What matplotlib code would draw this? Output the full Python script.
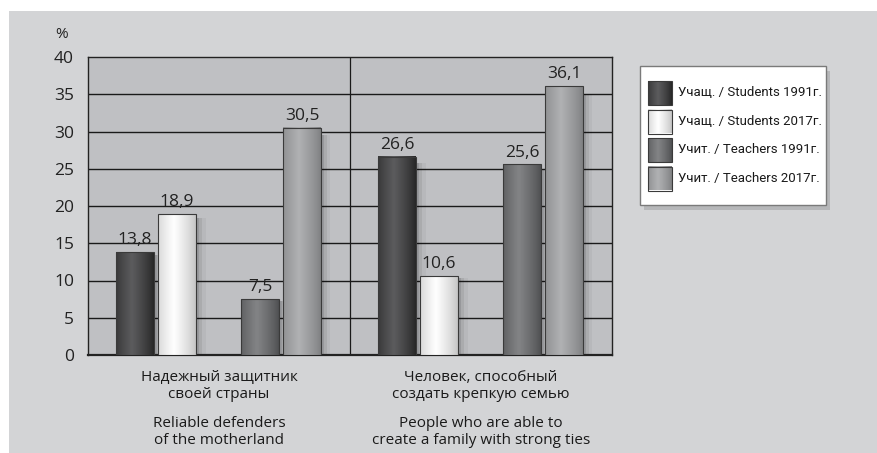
import numpy as np
import matplotlib
matplotlib.use("Agg")
import matplotlib.pyplot as plt
from matplotlib.patches import Rectangle

plt.rcParams['font.family'] = ['Open Sans', 'DejaVu Sans']

# ---- data ----
groups_ru = ["Надежный защитник\nсвоей страны", "Человек, способный\nсоздать крепкую семью"]
groups_en = ["Reliable defenders\nof the motherland", "People who are able to\ncreate a family with strong ties"]
series = ["Учащ. / Students 1991г.", "Учащ. / Students 2017г.",
          "Учит. / Teachers 1991г.", "Учит. / Teachers 2017г."]
students_1991 = [13.8, 26.6]
students_2017 = [18.9, 10.6]
teachers_1991 = [7.5, 25.6]
teachers_2017 = [30.5, 36.1]
values = [students_1991, students_2017, teachers_1991, teachers_2017]

# gradient colour stops (edge, centre) per series
grad = [("#262626", "#5c5c5e"), ("#c4c4c4", "#ffffff"),
        ("#4e4f51", "#838486"), ("#7f8082", "#b0b1b3")]
offsets = [-0.32, -0.16, 0.157, 0.317]
width = 0.145

W, H = 878, 453
fig = plt.figure(figsize=(W / 100, H / 100), dpi=100, facecolor="white")
fig.patches.append(Rectangle((9 / W, 0), 1, 1 - 11 / H, transform=fig.transFigure,
                             facecolor="#d3d4d6", edgecolor="none", zorder=-10))

ax = fig.add_axes([88 / W, (H - 355) / H, 524 / W, 298 / H])
ax.set_facecolor("#bfc0c3")
ax.set_xlim(-0.5, 1.5)
ax.set_ylim(0, 40)
ax.set_yticks(range(0, 41, 5))
ax.tick_params(axis="y", length=0, labelsize=12.5, pad=10, colors="#222222")
ax.set_xticks([])
for sp in ax.spines.values():
    sp.set_color("#222222")
    sp.set_linewidth(1.0)
ax.spines["bottom"].set_linewidth(1.6)
for yv in range(5, 40, 5):
    ax.axhline(yv, color="#1a1a1a", lw=1.0, zorder=1)
ax.axvline(0.5, color="#1a1a1a", lw=0.9, zorder=1)


def gradient_img(c_edge, c_mid, n=64):
    e = np.array(matplotlib.colors.to_rgb(c_edge))
    m = np.array(matplotlib.colors.to_rgb(c_mid))
    t = np.linspace(0, 1, n)
    # brightest a little left of centre, darker at both edges
    w = np.clip(1 - np.abs(t - 0.42) / 0.58, 0, 1) ** 0.8
    cols = e[None, :] * (1 - w[:, None]) + m[None, :] * w[:, None]
    return cols[None, :, :]


for i, vals in enumerate(values):
    for g, v in enumerate(vals):
        x0 = g + offsets[i] - width / 2
        # soft shadow to the right
        for k, a in enumerate([0.10, 0.07, 0.04]):
            ax.add_patch(Rectangle((x0 + width, 0), 0.012 * (k + 1), v * 0.97,
                                   facecolor="black", alpha=a, edgecolor="none", zorder=2))
        ax.imshow(gradient_img(*grad[i]), extent=(x0, x0 + width, 0, v),
                  aspect="auto", zorder=3, interpolation="bilinear")
        ax.add_patch(Rectangle((x0, 0), width, v, facecolor="none",
                               edgecolor="#3a3a3a", lw=0.8, zorder=4))
        ax.text(g + offsets[i], v + 0.5, f"{v:.1f}".replace(".", ","),
                ha="center", va="bottom", fontsize=12.5, color="#222222", zorder=5)

ax.set_xlim(-0.5, 1.5)
ax.set_ylim(0, 40)

fig.text(62 / W, 1 - 34 / H, "%", fontsize=11, color="#222222", ha="center", va="center")

for g in range(2):
    xc = g
    ax.annotate(groups_ru[g], xy=(xc, 0), xycoords="data", xytext=(0, -11),
                textcoords="offset points", ha="center", va="top", fontsize=11,
                color="#1a1a1a", linespacing=1.15, annotation_clip=False)
    ax.annotate(groups_en[g], xy=(xc, 0), xycoords="data", xytext=(0, -44),
                textcoords="offset points", ha="center", va="top", fontsize=11,
                color="#1a1a1a", linespacing=1.15, annotation_clip=False)

# ---- legend box ----
lx0, ly0, lx1, ly1 = 640, 66, 826, 205
lax = fig.add_axes([0, 0, 1, 1], zorder=5)
lax.set_xlim(0, W)
lax.set_ylim(H, 0)
lax.axis("off")
lax.add_patch(Rectangle((lx0 + 4, ly0 + 5), lx1 - lx0, ly1 - ly0, facecolor="#9a9b9d",
                        alpha=0.5, edgecolor="none", zorder=1))
lax.add_patch(Rectangle((lx0, ly0), lx1 - lx0, ly1 - ly0, facecolor="white",
                        edgecolor="#7a7a7a", lw=1.0, zorder=2))
for i, name in enumerate(series):
    yc = 93 + i * 28.5
    lax.imshow(gradient_img(*grad[i]), extent=(648, 672, yc + 12, yc - 12),
               aspect="auto", zorder=3, interpolation="bilinear")
    lax.add_patch(Rectangle((648, yc - 12), 24, 24, facecolor="none",
                            edgecolor="#3a3a3a", lw=0.8, zorder=4))
    lax.text(678, yc, name, fontsize=9.5, va="center", ha="left", color="#1a1a1a",
             family=["Roboto", "DejaVu Sans"], zorder=5)
lax.set_xlim(0, W)
lax.set_ylim(H, 0)

fig.savefig("out.png", dpi=100, facecolor=fig.get_facecolor())
